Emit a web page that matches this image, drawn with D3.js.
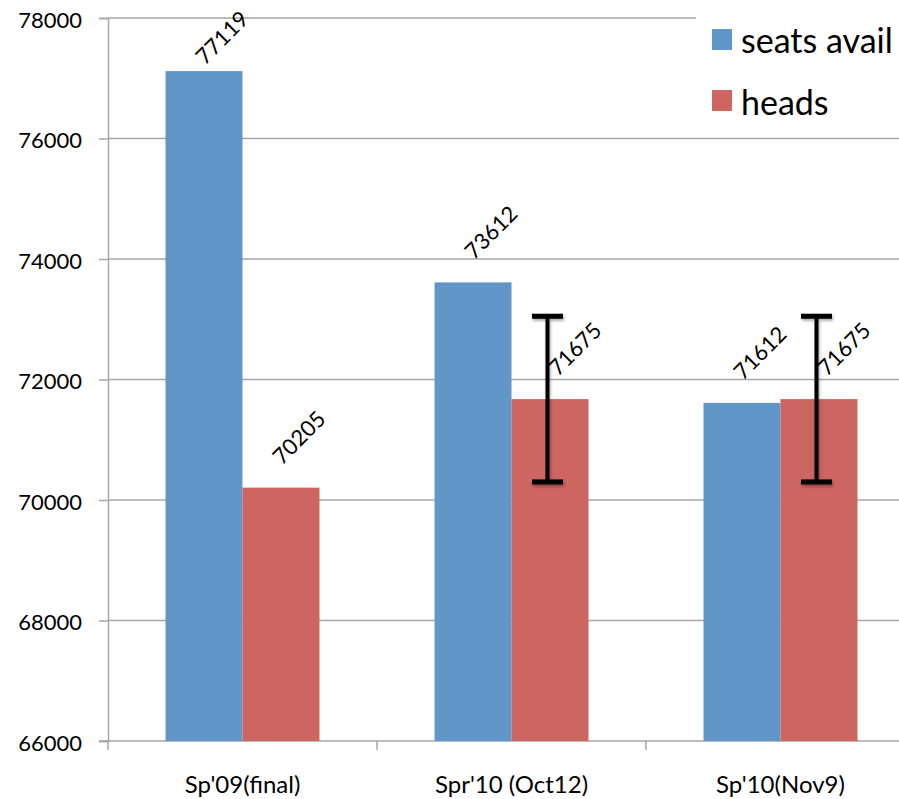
<!DOCTYPE html>
<html>
<head>
<meta charset="utf-8">
<script src="https://cdn.jsdelivr.net/npm/d3@7"></script>
<style>
  html, body { margin: 0; padding: 0; background: #fff; }
  svg { display: block; font-family: Lato, "Open Sans", sans-serif; }
</style>
</head>
<body>
<svg id="chart" width="899" height="799"></svg>
<script>
const categories = ["Sp'09(final)", "Spr'10 (Oct12)", "Sp'10(Nov9)"];
const seriesNames = ["seats avail", "heads"];
const seatsAvail = [77119, 73612, 71612];
const heads = [70205, 71675, 71675];
const headsError = [null, 1375, 1375];
const yTicks = [66000, 68000, 70000, 72000, 74000, 76000, 78000];
const colors = ["#6196C8", "#CD6560"];

(function () {
const svg = d3.select("#chart");
const plotLeft = 108, plotRight = 915, plotTop = 18, plotBottom = 741;

const x = d3.scaleBand().domain(categories).range([plotLeft, plotRight]).padding(0);
const xSub = d3.scaleBand().domain(seriesNames).range([0, x.bandwidth()])
  .paddingInner(0).paddingOuter(0.747);
const y = d3.scaleLinear().domain([66000, 78000]).range([plotBottom, plotTop]);

const gridColor = "#A6A6A6";

// gridlines
svg.append("g").selectAll("line").data(yTicks.slice(1)).join("line")
  .attr("x1", plotLeft).attr("x2", 899)
  .attr("y1", d => y(d)).attr("y2", d => y(d))
  .attr("stroke", gridColor).attr("stroke-width", 1.5);

// y axis
const yAxis = svg.append("g").attr("transform", `translate(${plotLeft},0)`)
  .call(d3.axisLeft(y).tickValues(yTicks).tickSize(9).tickPadding(17).tickFormat(d3.format("d")));
yAxis.select(".domain").attr("stroke", gridColor).attr("stroke-width", 1.5);
yAxis.selectAll(".tick line").attr("stroke", gridColor).attr("stroke-width", 1.5);
yAxis.selectAll(".tick text").attr("font-size", 22).attr("font-family", "Lato").attr("fill", "#000")
  .attr("dy", "0.42em");

// x axis
const xAxisG = svg.append("g").attr("transform", `translate(0,${plotBottom})`);
xAxisG.append("line").attr("x1", plotLeft - 9).attr("x2", 899).attr("stroke", gridColor).attr("stroke-width", 1.5);
const boundaries = categories.map(c => x(c)).concat([x(categories[2]) + x.bandwidth()]);
xAxisG.selectAll("line.tk").data(boundaries).join("line").attr("class", "tk")
  .attr("x1", d => d).attr("x2", d => d).attr("y1", 0).attr("y2", 9)
  .attr("stroke", gridColor).attr("stroke-width", 1.5);
xAxisG.selectAll("text").data(categories).join("text")
  .attr("x", d => x(d) + x.bandwidth() / 2).attr("y", 52)
  .attr("text-anchor", "middle").attr("font-size", 24).attr("fill", "#000")
  .text(d => d);

// bars
const rows = categories.map((c, i) => ({ cat: c, vals: [seatsAvail[i], heads[i]], err: [null, headsError[i]] }));
const groups = svg.append("g").selectAll("g").data(rows).join("g")
  .attr("transform", d => `translate(${x(d.cat)},0)`);

groups.selectAll("rect").data(d => d.vals.map((v, j) => ({ s: seriesNames[j], v, j }))).join("rect")
  .attr("x", d => xSub(d.s)).attr("width", xSub.bandwidth())
  .attr("y", d => y(d.v)).attr("height", d => plotBottom - y(d.v))
  .attr("fill", d => colors[d.j]);

// error bars
const defs = svg.append("defs");
const f = defs.append("filter").attr("id", "sh").attr("x", "-50%").attr("y", "-50%").attr("width", "200%").attr("height", "200%");
f.append("feDropShadow").attr("dx", 1).attr("dy", 2).attr("stdDeviation", 1.5).attr("flood-color", "#000").attr("flood-opacity", 0.35);

groups.each(function (d) {
  const g = d3.select(this);
  d.vals.forEach((v, j) => {
    const e = d.err[j];
    if (e == null) return;
    const cx = xSub(seriesNames[j]) + xSub.bandwidth() / 2 - 2.5;
    const eb = g.append("g").attr("filter", "url(#sh)");
    eb.append("line").attr("x1", cx).attr("x2", cx).attr("y1", y(v + e)).attr("y2", y(v - e))
      .attr("stroke", "#000").attr("stroke-width", 4);
    [v + e, v - e].forEach(t => {
      eb.append("line").attr("x1", cx - 15.5).attr("x2", cx + 15.5).attr("y1", y(t)).attr("y2", y(t))
        .attr("stroke", "#000").attr("stroke-width", 5);
    });
  });
});

// value labels
const svgTop = svg.node().getBoundingClientRect().top;
groups.selectAll("text.val").data(d => d.vals.map((v, j) => ({ s: seriesNames[j], v, j, hasErr: d.err[j] != null }))).join("text")
  .attr("class", "val")
  .attr("font-size", 22).attr("fill", "#000")
  .text(d => d.v)
  .each(function (d) {
    const t = d3.select(this);
    const lx = xSub(d.s) + xSub.bandwidth() / 2 + (d.hasErr ? 8 : 1);
    let ly = y(d.v) - 22;
    t.attr("transform", `translate(${lx},${ly}) rotate(-45)`);
    const r = this.getBoundingClientRect();
    const topPx = r.top - svgTop;
    if (topPx < 5) {
      ly += 5 - topPx;
      t.attr("transform", `translate(${lx},${ly}) rotate(-45)`);
    }
  });

// legend
const lg = svg.append("g");
lg.append("rect").attr("x", 696).attr("y", 0).attr("width", 210).attr("height", 128).attr("fill", "#fff");
seriesNames.forEach((s, i) => {
  lg.append("rect").attr("x", 712).attr("y", 29 + i * 61).attr("width", 20).attr("height", 21).attr("fill", colors[i]);
  lg.append("text").attr("x", 741).attr("y", 53 + i * 62).attr("font-size", 34).attr("fill", "#000").text(s);
});
})();
</script>
</body>
</html>
